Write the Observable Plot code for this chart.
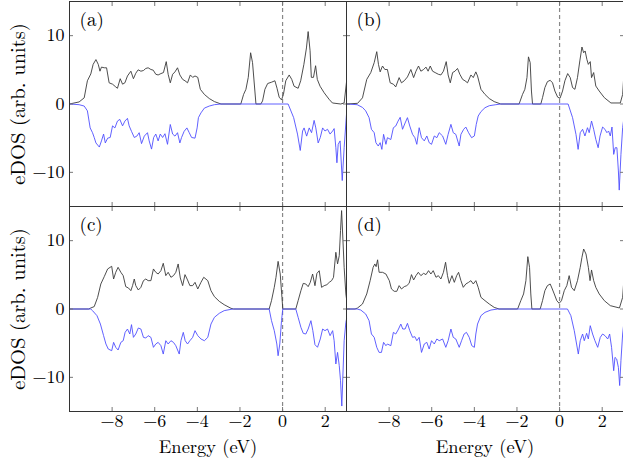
<!DOCTYPE html>
<html>
<head>
<meta charset="utf-8">
<script src="https://cdn.jsdelivr.net/npm/d3@7"></script>
<script src="https://cdn.jsdelivr.net/npm/@observablehq/plot@0.6"></script>
<style>
  html, body { margin: 0; padding: 0; background: #fff; }
  #chart { width: 623px; height: 460px; overflow: hidden; }
  #chart svg, #chart svg text { font-family: "Latin Modern Roman", "Liberation Serif", serif !important; }
</style>
</head>
<body>
<div id="chart"></div>
<script>
// ---- data (energy in eV, eDOS in arb. units) ----
const xTicks = [-8, -6, -4, -2, 0, 2];
const yTicks = [-10, 0, 10];
const panelLabels = ["(a)", "(b)", "(c)", "(d)"];

const upA = [[-10,0],[-9.55,0.3],[-9.31,0.9],[-9.16,3.4],[-9.0,4.4],[-8.89,5.8],[-8.76,6.5],[-8.65,5.8],[-8.57,4.8],[-8.5,5.4],[-8.37,5.3],[-8.26,5.3],[-8.14,3.1],[-7.98,2.9],[-7.83,2.5],[-7.75,2.3],[-7.62,3.7],[-7.51,2.9],[-7.4,3.1],[-7.28,4.1],[-7.12,4.8],[-7.0,3.7],[-6.89,4.5],[-6.78,5.0],[-6.65,4.8],[-6.53,4.9],[-6.42,5.2],[-6.31,5.3],[-6.18,5.05],[-6.07,4.95],[-5.95,4.35],[-5.84,4.25],[-5.71,4.45],[-5.59,4.6],[-5.46,6.2],[-5.37,4.35],[-5.27,3.1],[-5.16,4.35],[-5.05,4.7],[-4.93,5.3],[-4.82,4.25],[-4.69,3.6],[-4.58,3.4],[-4.46,3.1],[-4.33,4.25],[-4.22,3.9],[-4.11,4.1],[-3.98,3.9],[-3.86,2.15],[-3.67,1.4],[-3.44,0.8],[-3.2,0.35],[-2.89,0],[-1.96,0],[-1.83,1.4],[-1.72,2.15],[-1.61,3.9],[-1.5,7.5],[-1.41,6.05],[-1.3,1.9],[-1.25,0],[-1.02,0],[-0.94,0.45],[-0.83,2.15],[-0.7,3.0],[-0.51,3.2],[-0.36,3.4],[-0.26,2.3],[-0.16,1.0],[-0.05,0.6],[0.04,1.4],[0.15,3.4],[0.31,4.25],[0.43,3.6],[0.54,2.6],[0.73,2.3],[0.85,3.4],[1.0,5.8],[1.12,8.2],[1.2,10.6],[1.29,7.8],[1.35,3.9],[1.45,3.9],[1.55,5.6],[1.63,3.6],[1.76,2.6],[1.95,1.65],[2.18,0.7],[2.34,0.15],[2.73,0],[2.89,0.15],[3.0,3.2]];
const downA = [[-10,0],[-9.55,-0.1],[-9.31,-0.3],[-9.16,-1.0],[-9.03,-3.5],[-8.92,-4.2],[-8.84,-4.9],[-8.76,-5.7],[-8.6,-6.3],[-8.5,-5.4],[-8.4,-4.4],[-8.32,-5.7],[-8.21,-5.0],[-8.09,-4.9],[-7.98,-3.2],[-7.87,-3.5],[-7.75,-2.5],[-7.64,-2.25],[-7.51,-3.2],[-7.4,-2.5],[-7.28,-2.1],[-7.2,-3.2],[-7.09,-4.0],[-6.96,-4.9],[-6.84,-4.7],[-6.73,-4.2],[-6.62,-5.8],[-6.49,-4.7],[-6.34,-4.2],[-6.26,-5.4],[-6.15,-6.6],[-6.05,-4.9],[-5.95,-4.4],[-5.84,-5.4],[-5.74,-4.4],[-5.63,-4.9],[-5.52,-4.35],[-5.4,-5.9],[-5.27,-3.0],[-5.16,-4.4],[-5.05,-4.7],[-4.93,-4.2],[-4.82,-5.7],[-4.74,-4.9],[-4.62,-4.0],[-4.49,-3.5],[-4.38,-4.2],[-4.27,-4.9],[-4.11,-5.0],[-4.01,-3.5],[-3.95,-2.0],[-3.83,-1.3],[-3.67,-0.6],[-3.44,-0.3],[-3.2,-0.1],[-2.89,0],[0.26,0],[0.52,-2.0],[0.7,-4.4],[0.83,-6.8],[0.94,-3.95],[1.01,-3.5],[1.13,-4.7],[1.25,-3.5],[1.36,-4.2],[1.48,-2.4],[1.56,-3.5],[1.67,-5.7],[1.77,-4.9],[1.88,-3.5],[1.99,-3.95],[2.11,-3.7],[2.23,-4.4],[2.35,-3.95],[2.42,-3.6],[2.5,-6.4],[2.55,-8.6],[2.61,-5.9],[2.7,-5.4],[2.8,-11.2],[2.89,-6.4],[3.0,-1.5]];

const upB = [[-10,0],[-9.48,0.1],[-9.25,0.9],[-9.05,3.6],[-8.86,4.6],[-8.7,6.05],[-8.58,7.66],[-8.5,5.8],[-8.42,4.7],[-8.31,5.56],[-8.2,5.05],[-8.08,5.05],[-7.95,3.1],[-7.8,2.9],[-7.69,2.5],[-7.53,3.86],[-7.42,3.1],[-7.29,3.4],[-7.14,3.96],[-6.98,5.05],[-6.85,3.86],[-6.74,4.8],[-6.62,5.56],[-6.51,4.8],[-6.38,5.05],[-6.27,5.4],[-6.17,4.8],[-6.07,5.56],[-5.96,4.8],[-5.84,4.6],[-5.69,4.35],[-5.57,4.25],[-5.45,4.8],[-5.32,6.2],[-5.23,4.25],[-5.13,3.1],[-5.02,4.6],[-4.91,4.8],[-4.79,5.2],[-4.68,4.35],[-4.55,3.6],[-4.44,3.4],[-4.32,3.1],[-4.16,4.25],[-4.05,3.86],[-3.93,4.7],[-3.85,4.1],[-3.69,2.15],[-3.5,1.4],[-3.3,0.8],[-3.07,0.35],[-2.76,0],[-1.9,0],[-1.74,1.4],[-1.63,2.15],[-1.53,3.86],[-1.46,6.9],[-1.38,6.05],[-1.32,1.9],[-1.27,0],[-0.88,0],[-0.8,0.93],[-0.69,2.4],[-0.57,3.27],[-0.44,3.47],[-0.33,3.1],[-0.22,1.9],[-0.09,1.0],[0.02,0.83],[0.14,1.9],[0.25,3.4],[0.38,4.45],[0.5,3.86],[0.61,2.4],[0.72,2.15],[0.84,3.86],[0.95,6.3],[1.05,8.34],[1.13,7.5],[1.2,7.76],[1.28,6.54],[1.35,5.8],[1.44,6.2],[1.5,3.86],[1.6,4.6],[1.7,2.63],[1.86,1.9],[2.1,0.93],[2.41,0.15],[2.85,0.15],[2.96,1.4],[3.0,3.4]];
const downB = [[-10,0],[-9.5,-0.1],[-9.25,-0.5],[-9.1,-1.0],[-8.94,-2.0],[-8.83,-3.7],[-8.7,-4.2],[-8.62,-5.66],[-8.51,-6.15],[-8.42,-5.66],[-8.34,-6.64],[-8.26,-4.44],[-8.15,-5.9],[-8.08,-4.93],[-7.92,-5.2],[-7.8,-3.47],[-7.69,-3.23],[-7.58,-2.5],[-7.48,-1.95],[-7.37,-3.7],[-7.25,-2.78],[-7.14,-2.0],[-7.03,-3.23],[-6.9,-4.44],[-6.79,-4.93],[-6.7,-5.9],[-6.59,-3.47],[-6.48,-4.93],[-6.35,-5.4],[-6.23,-4.68],[-6.12,-5.66],[-6.01,-5.9],[-5.88,-4.68],[-5.76,-4.93],[-5.65,-4.2],[-5.49,-4.68],[-5.34,-5.9],[-5.23,-4.44],[-5.1,-2.98],[-4.99,-4.2],[-4.87,-4.44],[-4.71,-6.15],[-4.63,-4.44],[-4.5,-3.7],[-4.4,-3.37],[-4.27,-4.2],[-4.13,-4.93],[-4.0,-4.68],[-3.91,-2.98],[-3.82,-1.76],[-3.69,-1.12],[-3.5,-0.54],[-3.3,-0.25],[-2.99,-0.1],[-2.76,0],[0.4,0],[0.61,-2.0],[0.77,-4.44],[0.87,-6.64],[0.97,-4.2],[1.08,-3.7],[1.19,-4.68],[1.31,-3.47],[1.39,-4.2],[1.5,-2.49],[1.6,-3.7],[1.7,-5.17],[1.81,-6.4],[1.9,-4.68],[2.02,-3.37],[2.13,-3.7],[2.22,-4.2],[2.3,-3.95],[2.38,-4.68],[2.46,-3.37],[2.54,-7.37],[2.61,-6.4],[2.69,-6.4],[2.76,-9.8],[2.8,-12.6],[2.88,-7.37],[2.96,-3.47],[3.0,-2.5]];

const upC = [[-10,0],[-9.1,0],[-9.0,0.15],[-8.84,0.35],[-8.68,1.7],[-8.53,3.66],[-8.37,4.73],[-8.21,5.86],[-8.02,6.25],[-7.93,4.39],[-7.83,5.37],[-7.72,6.1],[-7.59,5.37],[-7.48,4.88],[-7.36,3.27],[-7.23,3.07],[-7.12,2.68],[-7.04,3.42],[-6.96,4.39],[-6.89,3.42],[-6.77,2.78],[-6.65,3.17],[-6.53,4.15],[-6.42,4.39],[-6.31,4.15],[-6.18,4.15],[-6.06,5.86],[-5.95,5.37],[-5.84,5.12],[-5.71,5.61],[-5.6,6.69],[-5.48,4.88],[-5.37,5.37],[-5.24,4.64],[-5.12,4.88],[-5.01,5.37],[-4.9,6.59],[-4.8,4.54],[-4.69,3.42],[-4.58,5.03],[-4.46,4.25],[-4.35,3.42],[-4.22,3.42],[-4.11,3.9],[-3.98,2.93],[-3.83,3.9],[-3.7,4.64],[-3.51,4.15],[-3.36,2.68],[-3.2,1.81],[-2.97,1.12],[-2.74,0.63],[-2.42,0.1],[-2.3,0],[-0.63,0],[-0.52,1.22],[-0.39,3.17],[-0.31,4.63],[-0.21,6.97],[-0.11,5.12],[-0.03,1.7],[0.01,0],[0.62,0],[0.73,1.22],[0.86,2.68],[0.97,3.75],[1.09,3.66],[1.2,3.27],[1.3,3.9],[1.41,5.12],[1.52,3.41],[1.61,5.2],[1.72,5.6],[1.83,3.17],[1.95,3.41],[2.08,3.56],[2.19,3.9],[2.3,4.15],[2.39,4.63],[2.5,8.3],[2.58,6.6],[2.66,7.8],[2.72,11.5],[2.77,14.4],[2.89,6.1],[2.97,2.2],[3.0,1.5]];
const downC = [[-10,0],[-9.0,0],[-8.92,-0.24],[-8.71,-0.98],[-8.55,-2.2],[-8.4,-3.9],[-8.29,-5.12],[-8.18,-5.86],[-8.02,-6.1],[-7.93,-4.88],[-7.83,-5.61],[-7.72,-6.0],[-7.59,-4.88],[-7.48,-4.64],[-7.39,-3.42],[-7.28,-2.93],[-7.17,-3.66],[-7.09,-2.29],[-7.0,-4.15],[-6.89,-3.66],[-6.77,-2.78],[-6.65,-2.93],[-6.53,-4.15],[-6.42,-4.25],[-6.31,-3.9],[-6.18,-4.15],[-6.06,-5.61],[-5.95,-5.12],[-5.84,-4.88],[-5.71,-5.37],[-5.6,-6.59],[-5.48,-4.64],[-5.37,-5.12],[-5.24,-4.64],[-5.12,-4.88],[-5.01,-5.37],[-4.85,-6.59],[-4.77,-4.64],[-4.66,-3.42],[-4.57,-4.64],[-4.46,-5.12],[-4.35,-4.64],[-4.22,-4.15],[-4.11,-3.17],[-3.98,-3.9],[-3.83,-4.39],[-3.67,-4.64],[-3.51,-4.15],[-3.36,-2.2],[-3.2,-1.22],[-2.97,-0.63],[-2.74,-0.24],[-2.42,-0.05],[-2.3,0],[-0.63,0],[-0.52,-1.7],[-0.39,-3.17],[-0.27,-5.12],[-0.21,-6.84],[-0.13,-5.12],[-0.05,-1.7],[0.01,0],[0.62,0],[0.73,-1.22],[0.86,-2.68],[0.97,-3.56],[1.09,-3.66],[1.2,-2.93],[1.33,-1.71],[1.42,-3.17],[1.52,-5.22],[1.64,-5.6],[1.77,-4.39],[1.88,-2.93],[1.99,-3.17],[2.11,-2.93],[2.23,-3.9],[2.35,-3.17],[2.42,-4.64],[2.5,-8.05],[2.58,-6.35],[2.66,-8.3],[2.72,-10.5],[2.78,-14.2],[2.89,-4.64],[2.97,-1.96],[3.0,-1.5]];

const upD = [[-10,0],[-9.6,0],[-9.48,0.15],[-9.25,0.73],[-9.05,2.2],[-8.89,4.15],[-8.75,6.1],[-8.67,6.59],[-8.61,6.2],[-8.54,7.2],[-8.47,5.37],[-8.31,5.37],[-8.15,5.12],[-7.99,4.15],[-7.89,2.93],[-7.76,2.59],[-7.64,2.59],[-7.53,3.42],[-7.42,2.93],[-7.29,3.27],[-7.17,3.42],[-7.06,3.76],[-6.95,5.03],[-6.85,4.25],[-6.74,4.88],[-6.63,5.37],[-6.51,4.88],[-6.38,5.22],[-6.27,5.03],[-6.15,5.61],[-6.04,5.12],[-5.93,5.61],[-5.8,4.64],[-5.69,4.88],[-5.57,4.39],[-5.45,5.37],[-5.35,6.84],[-5.26,4.88],[-5.18,3.76],[-5.05,4.88],[-4.94,3.9],[-4.83,4.88],[-4.74,5.37],[-4.63,4.15],[-4.52,3.17],[-4.4,3.66],[-4.27,3.9],[-4.16,4.15],[-4.05,3.66],[-3.93,4.15],[-3.82,3.17],[-3.69,1.71],[-3.5,1.22],[-3.3,0.73],[-3.07,0.24],[-2.84,0],[-1.97,0],[-1.82,1.22],[-1.69,2.2],[-1.58,4.15],[-1.49,7.66],[-1.41,6.1],[-1.35,2.2],[-1.3,0],[-0.91,0],[-0.8,1.22],[-0.69,2.68],[-0.57,3.42],[-0.44,3.66],[-0.36,3.07],[-0.25,2.2],[-0.13,1.22],[-0.02,0.83],[0.09,1.22],[0.22,2.68],[0.34,3.42],[0.45,4.88],[0.56,3.17],[0.69,2.68],[0.84,4.15],[0.97,6.1],[1.05,7.56],[1.13,8.78],[1.24,8.05],[1.35,6.1],[1.43,4.15],[1.5,5.71],[1.6,4.15],[1.7,3.17],[1.86,2.2],[2.1,1.22],[2.38,0.49],[2.81,0.15],[2.96,1.71],[3.0,3.5]];
const downD = [[-10,0],[-9.5,0],[-9.33,-0.15],[-9.1,-0.73],[-8.94,-1.71],[-8.83,-3.66],[-8.7,-4.15],[-8.58,-5.61],[-8.47,-6.35],[-8.36,-6.35],[-8.26,-4.88],[-8.15,-5.37],[-8.08,-5.12],[-7.92,-5.37],[-7.8,-3.42],[-7.69,-3.66],[-7.58,-3.07],[-7.45,-2.2],[-7.36,-2.93],[-7.25,-2.93],[-7.14,-2.1],[-7.03,-3.17],[-6.9,-4.15],[-6.79,-4.05],[-6.7,-4.64],[-6.59,-4.15],[-6.48,-6.35],[-6.35,-5.12],[-6.23,-4.88],[-6.12,-5.86],[-6.01,-4.64],[-5.88,-5.12],[-5.76,-4.39],[-5.65,-4.64],[-5.49,-4.39],[-5.34,-5.61],[-5.23,-4.64],[-5.1,-2.93],[-4.99,-4.15],[-4.87,-4.39],[-4.71,-5.61],[-4.6,-4.64],[-4.48,-3.66],[-4.37,-3.42],[-4.24,-4.15],[-4.12,-5.37],[-4.0,-5.61],[-3.93,-3.66],[-3.85,-2.2],[-3.69,-0.98],[-3.5,-0.49],[-3.22,-0.15],[-2.9,0],[0.37,0],[0.53,-0.98],[0.69,-3.17],[0.88,-6.59],[0.97,-4.64],[1.08,-3.66],[1.16,-4.64],[1.27,-3.56],[1.35,-4.39],[1.44,-2.44],[1.55,-3.66],[1.66,-4.64],[1.79,-5.61],[1.91,-4.15],[2.02,-3.66],[2.13,-3.9],[2.26,-4.39],[2.35,-3.66],[2.44,-5.61],[2.54,-9.03],[2.6,-7.08],[2.68,-7.32],[2.76,-8.54],[2.82,-11.2],[2.88,-7.56],[2.96,-3.66],[3.0,-2.5]];

// ---- build table ----
const panels = [
  {label: panelLabels[0], col: "L", row: "T", up: upA, down: downA},
  {label: panelLabels[1], col: "R", row: "T", up: upB, down: downB},
  {label: panelLabels[2], col: "L", row: "B", up: upC, down: downC},
  {label: panelLabels[3], col: "R", row: "B", up: upD, down: downD}
];
const upRows = panels.flatMap(p => p.up.map(([E, v]) => ({col: p.col, row: p.row, E, v})));
const downRows = panels.flatMap(p => p.down.map(([E, v]) => ({col: p.col, row: p.row, E, v})));

const font = "Latin Modern Roman";
const tickColor = "#777";

const chart = Plot.plot({
  width: 623,
  height: 460,
  marginLeft: 68,
  marginRight: 0,
  marginTop: 0,
  marginBottom: 49,
  style: {fontFamily: font, fontSize: "18px", color: "#000", background: "#fff"},
  x: {domain: [-10, 3]},
  y: {domain: [-15, 15]},
  fx: {domain: ["L", "R"], axis: null, padding: 0},
  fy: {domain: ["T", "B"], axis: null, padding: 0},
  marks: [
    Plot.ruleX([0], {stroke: "#888", strokeWidth: 1.2, strokeDasharray: "4,3"}),
    Plot.line(upRows, {x: "E", y: "v", fx: "col", fy: "row", stroke: "#3a3a3a", strokeWidth: 0.9}),
    Plot.line(downRows, {x: "E", y: "v", fx: "col", fy: "row", stroke: "#4f4fff", strokeWidth: 0.9}),
    // inward ticks on all sides of every panel
    Plot.axisX({anchor: "bottom", ticks: xTicks, tickSize: -4, tickFormat: () => "", facetAnchor: null, label: null, stroke: tickColor}),
    Plot.axisX({anchor: "top", ticks: xTicks, tickSize: -4, tickFormat: () => "", facetAnchor: null, label: null, stroke: tickColor}),
    Plot.axisY({anchor: "left", ticks: yTicks, tickSize: -4, tickFormat: () => "", facetAnchor: null, label: null, stroke: tickColor}),
    Plot.axisY({anchor: "right", ticks: yTicks, tickSize: -4, tickFormat: () => "", facetAnchor: null, label: null, stroke: tickColor}),
    // tick labels
    Plot.axisX({anchor: "bottom", ticks: xTicks, tickSize: 0, tickPadding: 3, label: null, fontSize: 18, fontFamily: font}),
    Plot.axisY({anchor: "left", ticks: yTicks, tickSize: 0, tickPadding: 5, label: null, fontSize: 18, fontFamily: font}),
    Plot.frame({stroke: "#333", strokeWidth: 1}),
    // panel letters
    Plot.text(panels, {fx: "col", fy: "row", text: "label", frameAnchor: "top-left", dx: 10, dy: 11, lineAnchor: "top", textAnchor: "start", fontSize: 19, fontFamily: font}),
    // axis titles
    Plot.text(["T", "B"], {fy: d => d, fx: () => "L", text: () => "eDOS (arb. units)", frameAnchor: "left", textAnchor: "middle", lineAnchor: "middle", dx: -51, rotate: -90, fontSize: 20.5, fontFamily: font}),
    Plot.text(["L", "R"], {fx: d => d, fy: () => "B", text: () => "Energy (eV)", frameAnchor: "bottom", textAnchor: "middle", lineAnchor: "middle", dy: 36, fontSize: 18.5, fontFamily: font})
  ]
});

document.getElementById("chart").appendChild(chart);

// make sure every label uses the Computer-Modern-like face
d3.select(chart).selectAll("text").style("font-family", "'Latin Modern Roman', 'Liberation Serif', serif");
</script>
</body>
</html>
